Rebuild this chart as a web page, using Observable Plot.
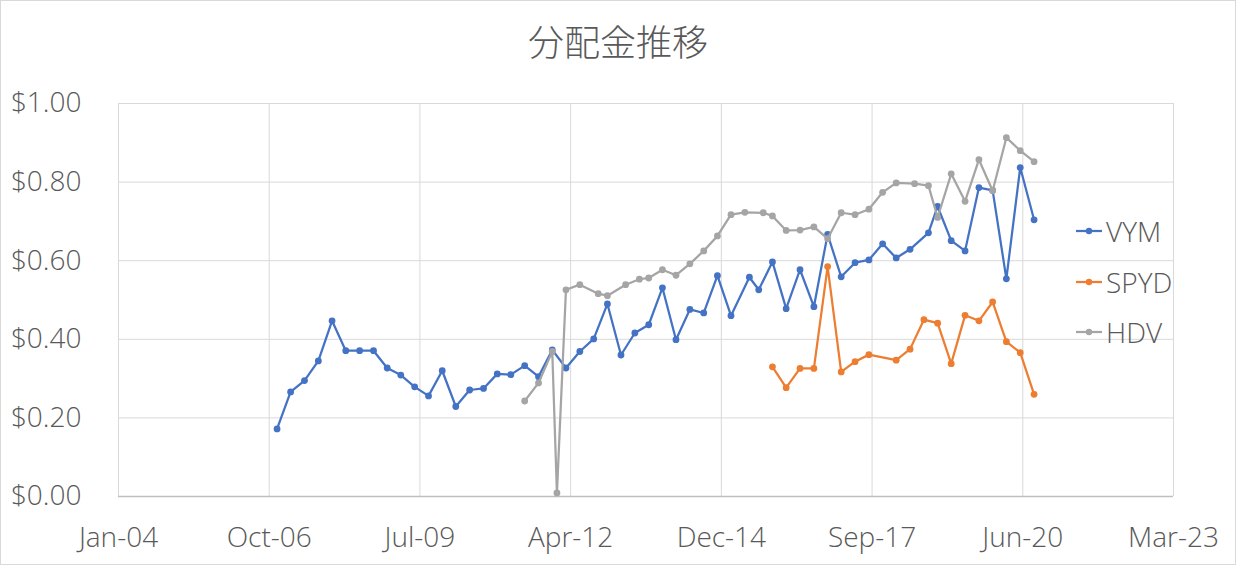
<!DOCTYPE html>
<html>
<head>
<meta charset="utf-8">
<script src="https://cdn.jsdelivr.net/npm/d3@7"></script>
<script src="https://cdn.jsdelivr.net/npm/@observablehq/plot@0.6"></script>
<style>
  html, body { margin: 0; padding: 0; background: #fff; }
  #wrap { position: relative; width: 1236px; height: 565px; overflow: hidden; }
  #frame { position: absolute; left: 0; top: 0; width: 1236px; height: 565px; box-sizing: border-box; border: 1px solid #d9d9d9; pointer-events: none; }
  #title { position: absolute; left: 0; top: 16px; width: 1236px; text-align: center;
           font-family: "Noto Sans CJK JP", sans-serif; font-weight: 300; font-size: 36px; line-height: 48px; color: #595959; }
  #chart { position: absolute; left: 0; top: 0; }
  #legend { position: absolute; left: 1075px; top: 206px; font-family: "Open Sans", sans-serif; font-weight: 300; font-size: 28px; color: #595959; }
  .item { height: 50.5px; display: flex; align-items: center; white-space: nowrap; }
  .item svg { margin-right: 3px; }
</style>
</head>
<body>
<div id="wrap">
  <div id="chart"></div>
  <div id="title">分配金推移</div>
  <div id="legend"></div>
  <div id="frame"></div>
</div>
<script>
// ---- data ----
const seriesNames = ["VYM", "SPYD", "HDV"];
const seriesColors = ["#4472C4", "#ED7D31", "#A5A5A5"];

const vymDates = [
  "2006-12-01","2007-03-01","2007-06-01","2007-09-01","2007-12-01",
  "2008-03-01","2008-06-01","2008-09-01","2008-12-01",
  "2009-03-01","2009-06-01","2009-09-01","2009-12-01",
  "2010-03-01","2010-06-01","2010-09-01","2010-12-01",
  "2011-03-01","2011-06-01","2011-09-01","2011-12-01",
  "2012-03-01","2012-06-01","2012-09-01","2012-12-01",
  "2013-03-01","2013-06-01","2013-09-01","2013-12-01",
  "2014-03-01","2014-06-01","2014-09-01","2014-12-01",
  "2015-03-01","2015-07-01","2015-09-01","2015-12-01",
  "2016-03-01","2016-06-01","2016-09-01","2016-12-01",
  "2017-03-01","2017-06-01","2017-09-01","2017-12-01",
  "2018-03-01","2018-06-01","2018-10-01","2018-12-01",
  "2019-03-01","2019-06-01","2019-09-01","2019-12-01",
  "2020-03-01","2020-06-01","2020-09-01"
];
const vymValues = [
  0.172, 0.266, 0.295, 0.345, 0.447,
  0.371, 0.371, 0.371, 0.327,
  0.309, 0.279, 0.256, 0.320,
  0.229, 0.271, 0.275, 0.312,
  0.310, 0.333, 0.305, 0.373,
  0.327, 0.369, 0.401, 0.490,
  0.360, 0.416, 0.437, 0.531,
  0.399, 0.476, 0.467, 0.562,
  0.460, 0.558, 0.526, 0.597,
  0.478, 0.577, 0.483, 0.667,
  0.559, 0.595, 0.602, 0.643,
  0.607, 0.629, 0.671, 0.738,
  0.651, 0.625, 0.786, 0.779,
  0.554, 0.837, 0.704
];

const spydDates = [
  "2015-12-01","2016-03-01","2016-06-01","2016-09-01","2016-12-01",
  "2017-03-01","2017-06-01","2017-09-01",
  "2018-03-01","2018-06-01","2018-09-01","2018-12-01",
  "2019-03-01","2019-06-01","2019-09-01","2019-12-01",
  "2020-03-01","2020-06-01","2020-09-01"
];
const spydValues = [
  0.330, 0.277, 0.326, 0.326, 0.585,
  0.317, 0.343, 0.361,
  0.347, 0.375, 0.450, 0.441,
  0.338, 0.461, 0.447, 0.495,
  0.394, 0.366, 0.260
];

const hdvDates = [
  "2011-06-01","2011-09-01","2011-12-01","2012-01-01","2012-03-01",
  "2012-06-01","2012-10-01","2012-12-01",
  "2013-04-01","2013-07-01","2013-09-01","2013-12-01",
  "2014-03-01","2014-06-01","2014-09-01","2014-12-01",
  "2015-03-01","2015-06-01","2015-10-01","2015-12-01",
  "2016-03-01","2016-06-01","2016-09-01","2016-12-01",
  "2017-03-01","2017-06-01","2017-09-01","2017-12-01",
  "2018-03-01","2018-07-01","2018-10-01","2018-12-01",
  "2019-03-01","2019-06-01","2019-09-01","2019-12-01",
  "2020-03-01","2020-06-01","2020-09-01"
];
const hdvValues = [
  0.243, 0.289, 0.369, 0.009, 0.526,
  0.539, 0.516, 0.511,
  0.539, 0.553, 0.556, 0.577,
  0.563, 0.592, 0.625, 0.663,
  0.717, 0.723, 0.722, 0.714,
  0.677, 0.678, 0.686, 0.656,
  0.722, 0.717, 0.731, 0.774,
  0.798, 0.796, 0.791, 0.710,
  0.821, 0.751, 0.857, 0.778,
  0.913, 0.880, 0.852
];

// x-axis ticks (Excel date axis, 1000-day major unit)
const xTickDates = ["2004-01-14","2006-10-10","2009-07-06","2012-04-01","2014-12-27","2017-09-22","2020-06-18","2023-03-15"];
const xTickLabels = ["Jan-04","Oct-06","Jul-09","Apr-12","Dec-14","Sep-17","Jun-20","Mar-23"];
const yTicks = [0, 0.2, 0.4, 0.6, 0.8, 1.0];
const yTickLabels = ["$0.00","$0.20","$0.40","$0.60","$0.80","$1.00"];

// ---- build tables ----
const parse = d3.utcParse("%Y-%m-%d");
const allDates = [vymDates, spydDates, hdvDates];
const allValues = [vymValues, spydValues, hdvValues];
const tables = seriesNames.map((name, s) =>
  allDates[s].map((d, i) => ({ series: name, date: parse(d), value: allValues[s][i] }))
);
const xTicks = xTickDates.map(parse);

const seriesMarks = [];
tables.forEach((rows, s) => {
  seriesMarks.push(Plot.line(rows, { x: "date", y: "value", stroke: seriesColors[s], strokeWidth: 2.25, strokeLinejoin: "round", strokeLinecap: "round" }));
  seriesMarks.push(Plot.dot(rows, { x: "date", y: "value", fill: seriesColors[s], r: 3.4, stroke: "none" }));
});

const chart = Plot.plot({
  width: 1236,
  height: 565,
  marginLeft: 118,
  marginRight: 63,
  marginTop: 103,
  marginBottom: 69,
  style: { fontFamily: "'Open Sans', sans-serif", fontWeight: 300, fontSize: "28px", color: "#595959", background: "transparent", overflow: "visible" },
  x: {
    type: "utc",
    domain: [xTicks[0], xTicks[xTicks.length - 1]],
    ticks: xTicks,
    tickFormat: (d) => xTickLabels[xTicks.findIndex(t => +t === +d)],
    tickSize: 0,
    tickPadding: 31,
    label: null
  },
  y: {
    domain: [0, 1],
    ticks: yTicks,
    tickFormat: (d) => yTickLabels[yTicks.findIndex(t => Math.abs(t - d) < 1e-9)],
    tickSize: 0,
    tickPadding: 37,
    label: null
  },
  marks: [
    Plot.gridX(xTicks, { stroke: "#d9d9d9", strokeOpacity: 1, strokeWidth: 1 }),
    Plot.gridY(yTicks.filter(v => v > 0), { stroke: "#d9d9d9", strokeOpacity: 1, strokeWidth: 1 }),
    Plot.ruleY([0], { stroke: "#bfbfbf", strokeWidth: 1.3 }),
    ...seriesMarks
  ]
});
document.getElementById("chart").appendChild(chart);

// ---- legend ----
const legend = document.getElementById("legend");
seriesNames.forEach((name, s) => {
  const item = document.createElement("div");
  item.className = "item";
  item.innerHTML = `<svg width="28" height="10"><line x1="1" y1="5" x2="27" y2="5" stroke="${seriesColors[s]}" stroke-width="2.25"/><circle cx="14" cy="5" r="3.2" fill="${seriesColors[s]}"/></svg><span>${name}</span>`;
  legend.appendChild(item);
});
</script>
</body>
</html>
